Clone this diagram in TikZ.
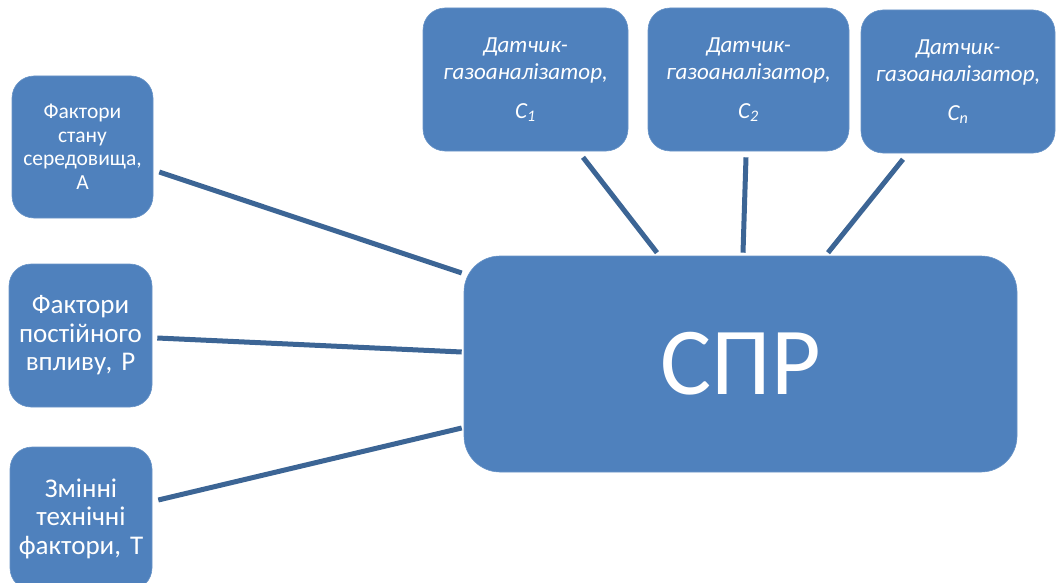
\documentclass[tikz,border=0pt]{standalone}
\usepackage{fontspec}
\setmainfont{Carlito}
\usetikzlibrary{calc}
\definecolor{boxblue}{HTML}{4F81BD}
\definecolor{linkblue}{HTML}{3C6595}
\begin{document}
\begin{tikzpicture}[x=1pt,y=-1pt,
  box/.style={rectangle, rounded corners=22pt, fill=boxblue, draw=boxblue!85!white, line width=0.6pt,
    text=white, align=center, inner sep=0pt},
  smallf/.style={font=\fontsize{21.5}{23.5}\selectfont},
  midf/.style={font=\fontsize{27}{28.5}\selectfont},
  topf/.style={font=\fontsize{23}{27.5}\selectfont\itshape},
  link/.style={draw=linkblue, line width=5pt}]
\useasboundingbox (0,0) rectangle (1057,583);
% left boxes
\node[box, smallf, minimum width=141pt, minimum height=142pt, text width=138pt] (A) at (82.5,147)
  {Фактори\\стану\\середовища,\\А};
\node[box, midf, minimum width=143pt, minimum height=143pt, text width=140pt] (P) at (80.5,335.5)
  {Фактори\\постійного\\впливу, Р};
\node[box, midf, minimum width=142pt, minimum height=143pt, text width=140pt] (T) at (81,518.5)
  {Змінні\\технічні\\фактори, Т};
% centre box
\node[box, rounded corners=36pt, minimum width=553pt, minimum height=216pt,
  font=\fontsize{96}{100}\selectfont] (spr) at (740.5,364) {СПР};
% top boxes
\node[box, topf, minimum width=205pt, minimum height=143pt, text width=200pt] (C1) at (525.5,79.5)
  {Датчик-\\газоаналізатор,\\[11pt]C\textsubscript{1}};
\node[box, topf, minimum width=201pt, minimum height=143pt, text width=198pt] (C2) at (748.5,79.5)
  {Датчик-\\газоаналізатор,\\[11pt]C\textsubscript{2}};
\node[box, topf, minimum width=194pt, minimum height=143pt, text width=192pt] (Cn) at (958,81.5)
  {Датчик-\\газоаналізатор,\\[11pt]C\textsubscript{n}};
% connectors
\draw[link] ($(A.east)+(6,25)$) -- ($(spr.west)+(-2,-91)$);
\draw[link] ($(P.east)+(5,2.5)$) -- ($(spr.west)+(-2,-12)$);
\draw[link] ($(T.east)+(6,-18.5)$) -- ($(spr.west)+(-2,64)$);
\draw[link] ($(C1.south)+(57.5,6)$) -- ($(spr.north)+(-83.5,-3)$);
\draw[link] ($(C2.south)+(-2.5,6)$) -- ($(spr.north)+(2.5,-3)$);
\draw[link] ($(Cn.south)+(-55,6)$) -- ($(spr.north)+(87.5,-3)$);
\end{tikzpicture}
\end{document}
